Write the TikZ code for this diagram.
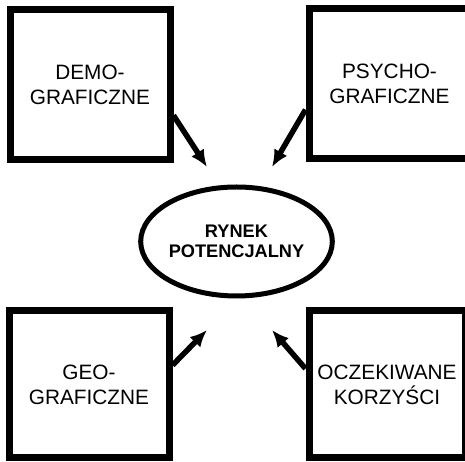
\documentclass[tikz,border=0pt]{standalone}
\usepackage{fontspec}
\setmainfont{Liberation Sans}
\usetikzlibrary{shapes.geometric,arrows.meta}
\tikzset{
  kryterium/.style={draw, line width=7pt, minimum width=160pt, minimum height=150pt, inner sep=0pt, align=center, font=\fontsize{20.8}{25}\selectfont},
  owal/.style={draw, ellipse, line width=5pt, minimum width=157pt, minimum height=109pt, inner sep=0pt, align=center, font=\bfseries\fontsize{18.2}{20}\selectfont},
  strzalka/.style={line width=5.5pt, -{Latex[length=17pt,width=15pt]}}
}
\begin{document}
\begin{tikzpicture}[x=1pt,y=1pt]
        \useasboundingbox (0,0) rectangle (465,462);
        %kryteria segmentacji
        \node[kryterium] (demo) at (90,377) {DEMO-\\GRAFICZNE};
        \node[kryterium, minimum width=161pt] (psycho) at (389.5,378) {PSYCHO-\\GRAFICZNE};
        \node[kryterium, minimum height=147pt] (geo) at (89,77.5) {GEO-\\GRAFICZNE};
        \node[kryterium, minimum width=156pt, minimum height=147pt] (korzysci) at (387,77.5) {OCZEKIWANE\\KORZYŚCI};
        %rynek w srodku
        \node[owal] (rynek) at (236.5,220.5) {RYNEK\\POTENCJALNY};
        %groty strzalek
        \coordinate (t1) at (207,295);
        \coordinate (t2) at (272,295);
        \coordinate (t3) at (207,132);
        \coordinate (t4) at (272,132);
        %strzalki
        \draw[strzalka] (demo.-20) -- (t1);
        \draw[strzalka] (psycho.197) -- (t2);
        \draw[strzalka] (geo.13) -- (t3);
        \draw[strzalka] (korzysci.169) -- (t4);
\end{tikzpicture}
\end{document}
